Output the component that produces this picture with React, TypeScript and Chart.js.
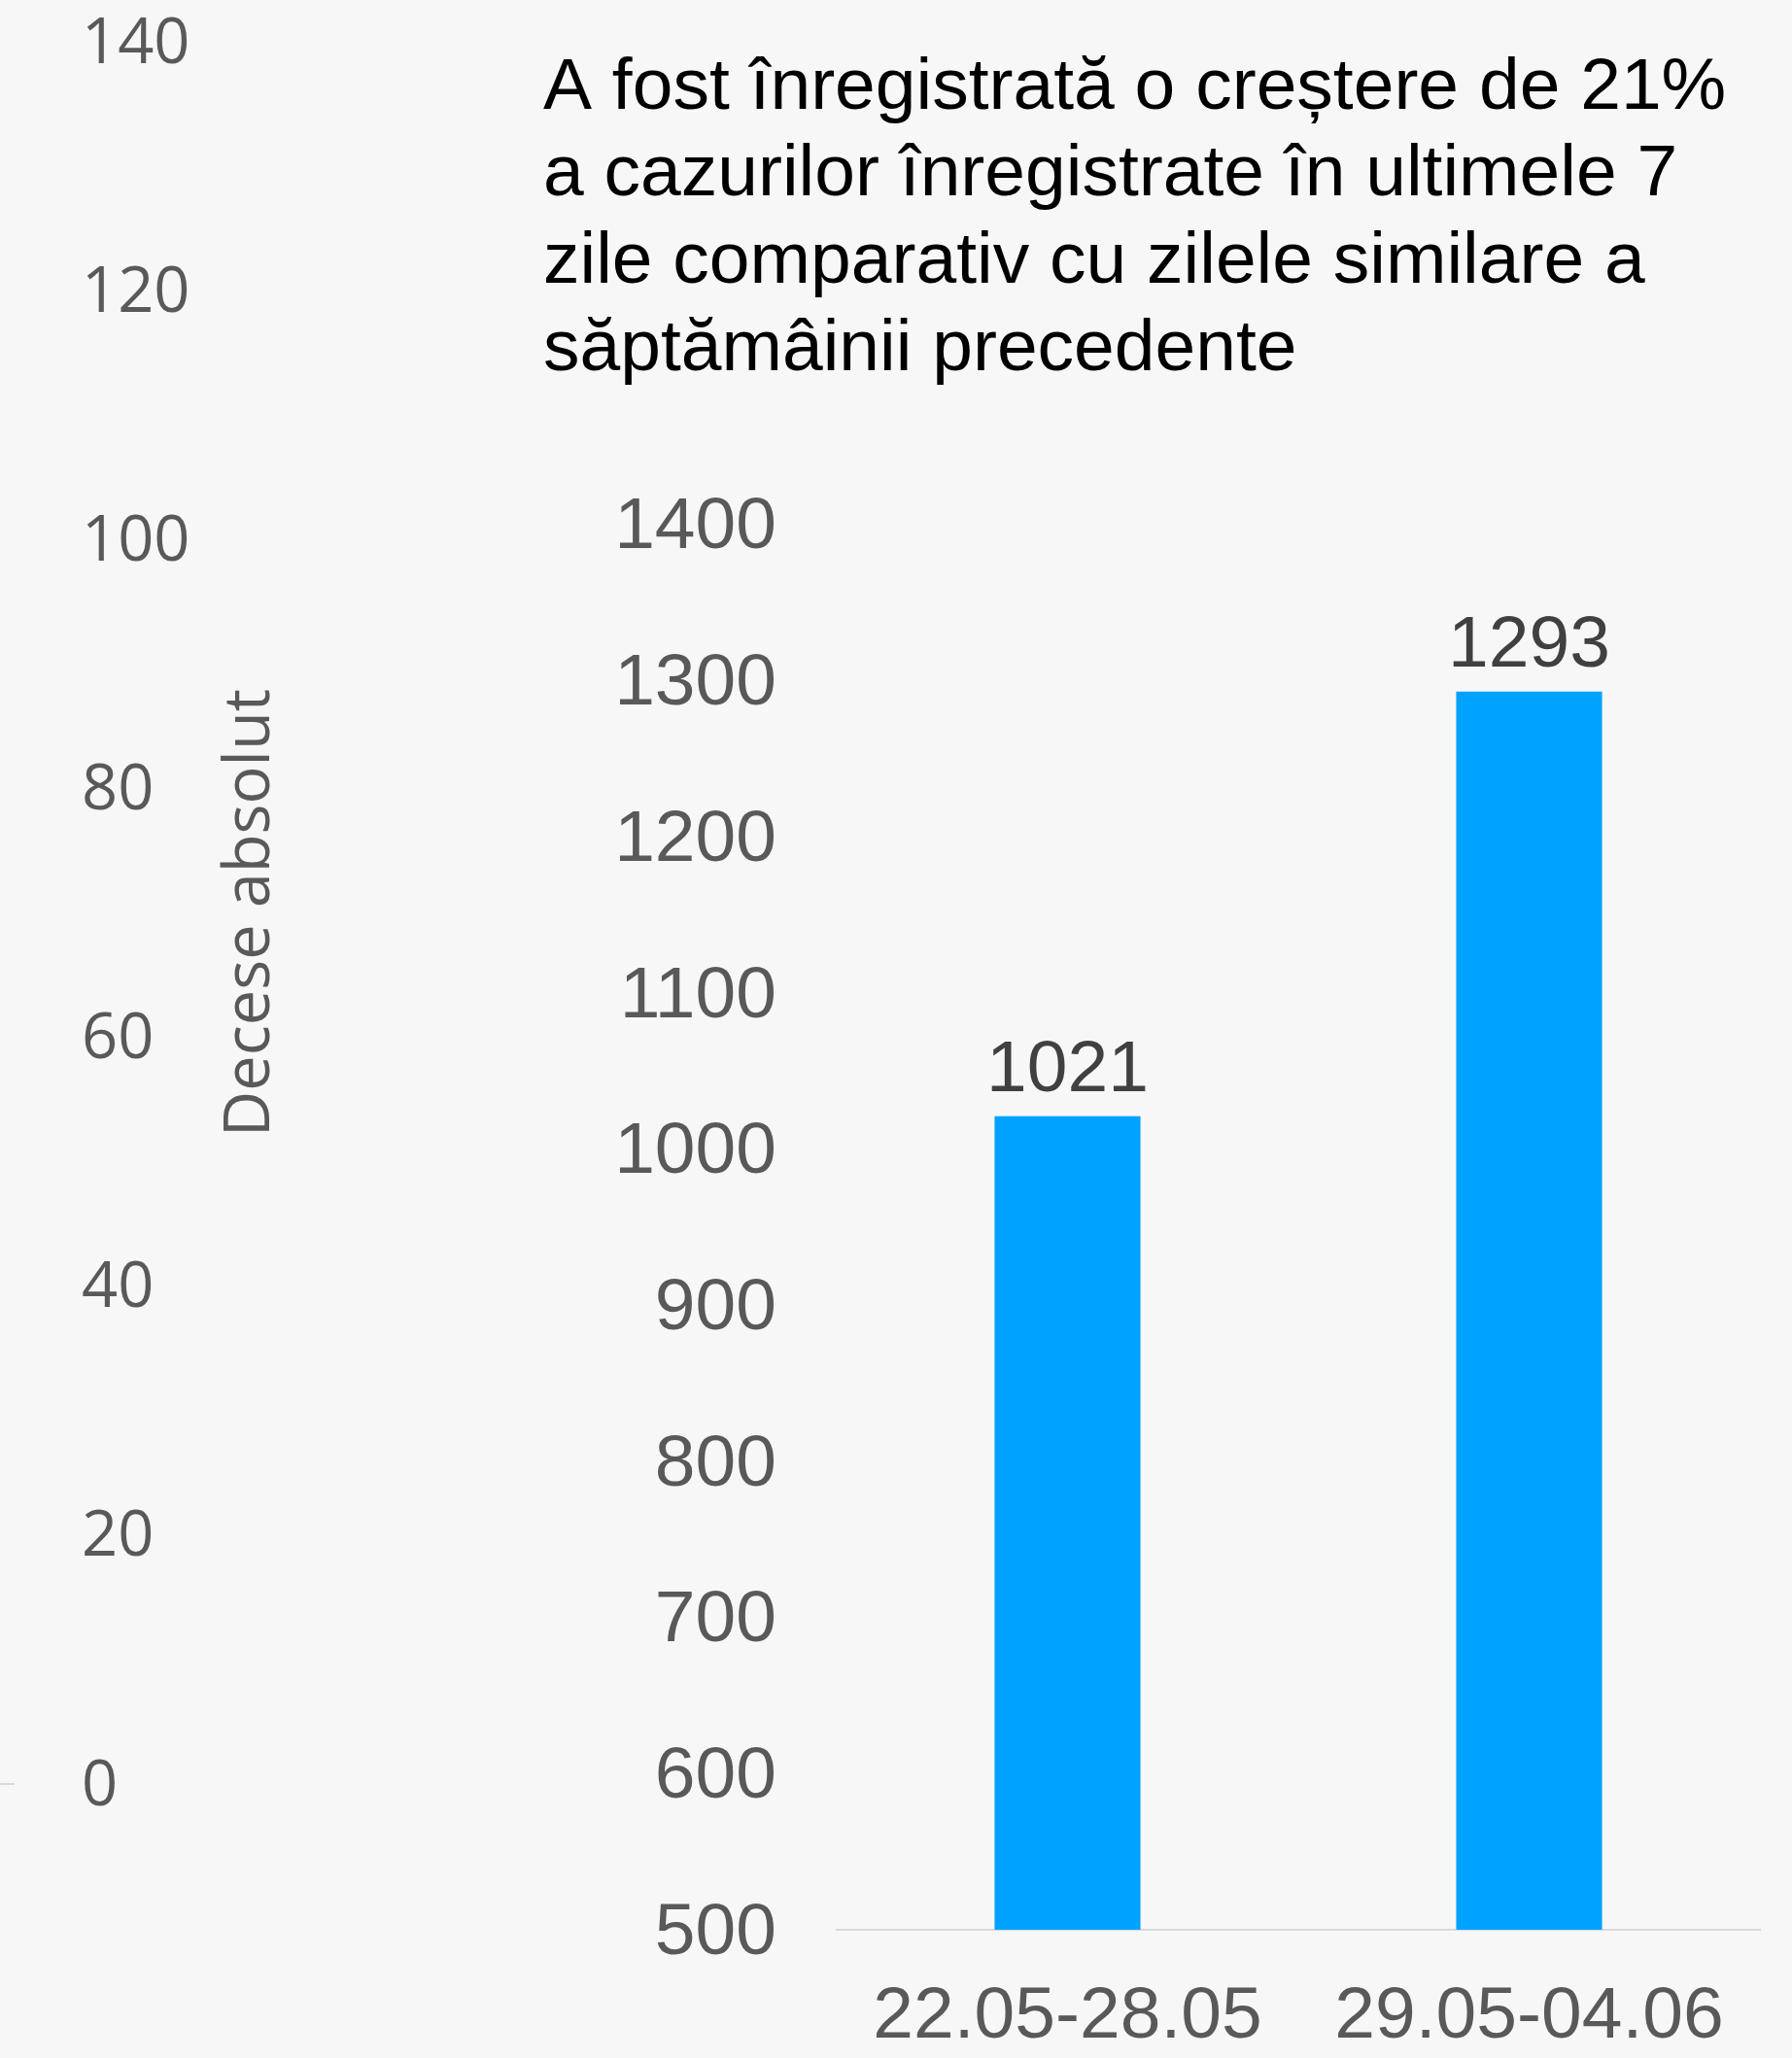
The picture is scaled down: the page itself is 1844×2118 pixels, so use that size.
import React, { useEffect, useRef } from 'react';
import { Chart, registerables } from 'chart.js';

Chart.register(...registerables);

// ---- data ----
const categories = ['22.05-28.05', '29.05-04.06'];
const cases = [1021, 1293];
const caseTicks = [500, 600, 700, 800, 900, 1000, 1100, 1200, 1300, 1400];
const deathTicks = [0, 20, 40, 60, 80, 100, 120, 140];
const titleLines = [
  'A fost înregistrată o creștere de 21%',
  'a cazurilor înregistrate în ultimele 7',
  'zile comparativ cu zilele similare a',
  'săptămâinii precedente',
];
const deathAxisTitle = 'Decese absolut';

// ---- styles ----
const ARIAL = "'Liberation Sans', Arial, sans-serif";
const OPEN = "'Open Sans', 'Noto Sans', sans-serif";
const BG = '#F7F7F7';
const BAR = '#00A2FF';
const AXIS_TEXT = '#595959';
const LABEL_TEXT = '#404040';
const LINE = '#D9D9D9';
const CLEAR = 'rgba(0,0,0,0)';

const valueLabels = {
  id: 'valueLabels',
  afterDatasetsDraw(chart: any) {
    const ctx = chart.ctx;
    const meta = chart.getDatasetMeta(0);
    const ds = chart.data.datasets[0];
    ctx.save();
    ctx.font = `75px ${ARIAL}`;
    ctx.fillStyle = LABEL_TEXT;
    ctx.textAlign = 'center';
    ctx.textBaseline = 'alphabetic';
    meta.data.forEach((bar: any, i: number) => {
      ctx.fillText(String(ds.data[i]), bar.x, bar.y - 26);
    });
    ctx.restore();
  },
};

const leftAxisTitle = {
  id: 'leftAxisTitle',
  afterDraw(chart: any) {
    const ctx = chart.ctx;
    const s = chart.scales.y;
    const area = chart.chartArea;
    ctx.save();
    ctx.translate(s.left + 263, (area.top + area.bottom) / 2);
    ctx.rotate(-Math.PI / 2);
    ctx.font = `65px ${OPEN}`;
    ctx.fillStyle = AXIS_TEXT;
    ctx.textAlign = 'center';
    ctx.textBaseline = 'alphabetic';
    ctx.fillText(deathAxisTitle, 0, 0);
    ctx.restore();
  },
};

export default function App() {
  const leftRef = useRef<HTMLCanvasElement>(null);
  const mainRef = useRef<HTMLCanvasElement>(null);

  useEffect(() => {
    const left = new Chart(leftRef.current as HTMLCanvasElement, {
      type: 'bar',
      data: { labels: [''], datasets: [{ data: [] as number[] }] },
      options: {
        responsive: false,
        animation: false,
        layout: { padding: { top: 43, bottom: 50, left: 0, right: 0 } },
        plugins: { legend: { display: false }, tooltip: { enabled: false }, title: { display: false } },
        scales: {
          x: {
            grid: { display: false, drawTicks: false },
            ticks: { display: false },
            border: { display: true, color: LINE, width: 2 },
          },
          y: {
            position: 'right',
            min: deathTicks[0],
            max: deathTicks[deathTicks.length - 1],
            grid: { display: true, drawOnChartArea: false, drawTicks: true, tickLength: 70, color: CLEAR },
            border: { display: false },
            ticks: {
              stepSize: deathTicks[1] - deathTicks[0],
              color: AXIS_TEXT,
              font: { family: OPEN, size: 65 },
              padding: 0,
              labelOffset: 3,
            },
            afterFit: (s: any) => { s.width = 286; },
          },
        },
      } as any,
      plugins: [leftAxisTitle],
    });

    const main = new Chart(mainRef.current as HTMLCanvasElement, {
      type: 'bar',
      data: {
        labels: categories,
        datasets: [
          {
            data: cases,
            backgroundColor: BAR,
            borderWidth: 0,
            barPercentage: 0.316,
            categoryPercentage: 1,
          },
        ],
      },
      options: {
        responsive: false,
        animation: false,
        layout: { padding: { left: 0, right: 33, top: 0, bottom: 0 } },
        plugins: {
          legend: { display: false },
          tooltip: { enabled: false },
          title: {
            display: true,
            text: titleLines,
            align: 'start',
            color: '#000000',
            font: { family: ARIAL, size: 75, weight: 'normal', lineHeight: 1.196 },
            padding: { top: 46, bottom: 135 },
          },
        },
        scales: {
          x: {
            grid: { display: false, drawTicks: false },
            border: { display: true, color: LINE, width: 2 },
            ticks: {
              color: AXIS_TEXT,
              font: { family: ARIAL, size: 75 },
              padding: 45,
              maxRotation: 0,
              autoSkip: false,
            },
            afterFit: (s: any) => { s.height = 132; },
          },
          y: {
            min: caseTicks[0],
            max: caseTicks[caseTicks.length - 1],
            grid: { display: true, drawOnChartArea: false, drawTicks: true, tickLength: 62, color: CLEAR },
            border: { display: false },
            ticks: {
              stepSize: caseTicks[1] - caseTicks[0],
              color: AXIS_TEXT,
              font: { family: ARIAL, size: 75 },
              padding: 0,
              labelOffset: 4,
              callback: (v: any) => String(v),
            },
            afterFit: (s: any) => { s.width = 302; },
          },
        },
      } as any,
      plugins: [valueLabels],
    });

    return () => {
      left.destroy();
      main.destroy();
    };
  }, []);

  return (
    <div
      style={{
        position: 'absolute',
        left: 0,
        top: 0,
        width: 1844,
        height: 2118,
        background: BG,
        overflow: 'hidden',
      }}
    >
      <canvas
        ref={leftRef}
        width={300}
        height={1886}
        style={{ position: 'absolute', left: 0, top: 0, width: 300, height: 1886 }}
      />
      <canvas
        ref={mainRef}
        width={1285}
        height={2118}
        style={{ position: 'absolute', left: 559, top: 0, width: 1285, height: 2118 }}
      />
    </div>
  );
}
